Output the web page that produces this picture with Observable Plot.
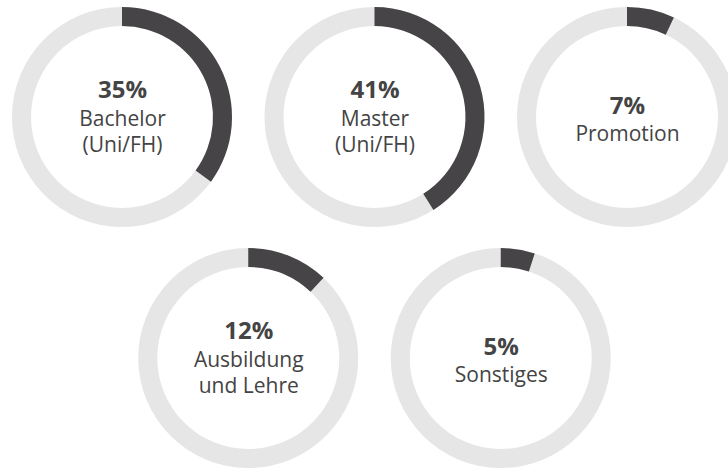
<!DOCTYPE html>
<html><head><meta charset="utf-8">
<script src="https://cdn.jsdelivr.net/npm/d3@7"></script>
<script src="https://cdn.jsdelivr.net/npm/@observablehq/plot@0.6"></script>
<style>html,body{margin:0;padding:0;background:#fff;overflow:hidden;} #chart svg{display:block}</style>
</head><body><div id="chart"></div>
<script>
// Data
const categories = ["Bachelor\n(Uni/FH)", "Master\n(Uni/FH)", "Promotion", "Ausbildung\nund Lehre", "Sonstiges"];
const percentages = [35, 41, 7, 12, 5];

// Layout: three rings on the first row, two on the second (offset by half a slot)
const rows = categories.map((label, i) => ({
  label,
  value: percentages[i],
  pct: percentages[i] + "%",
  col: i < 3 ? i : i - 2.5,
  row: i < 3 ? 0 : 1,
  lines: label.split("\n").length
}));

const outerR = 110, innerR = 91;
const angle = d3.scaleLinear([0, 100], [0, 2 * Math.PI]);
const font = "'Open Sans', 'Noto Sans', sans-serif";
const textColor = "#444";

function ringMark(data, fill, endValue) {
  return Plot.dot(data, {
    x: "col", y: "row", r: 0,
    render(index, scales, values) {
      const g = d3.create("svg:g");
      for (const i of index) {
        g.append("path")
          .attr("transform", `translate(${values.x[i]},${values.y[i]})`)
          .attr("fill", fill)
          .attr("d", d3.arc()({innerRadius: innerR, outerRadius: outerR, startAngle: 0, endAngle: angle(endValue(data[i]))}));
      }
      return g.node();
    }
  });
}

const pctSize = 24, labelSize = 21, lh = 1.27;

const chart = Plot.plot({
  width: 728,
  height: 468,
  margin: 0,
  style: {overflow: "hidden", background: "#fff"},
  x: {domain: [0, 2], range: [122, 627], axis: null},
  y: {domain: [0, 1], range: [117, 358], axis: null},
  marks: [
    ringMark(rows, "#e6e6e6", () => 100),
    ringMark(rows, "#464446", d => d.value),
    // percentages
    Plot.text(rows, {filter: d => d.lines === 2, x: "col", y: "row", text: "pct", lineAnchor: "bottom", dy: -20,
      fontSize: pctSize, fontWeight: "bold", fontFamily: font, fill: textColor}),
    Plot.text(rows, {filter: d => d.lines === 1, x: "col", y: "row", text: "pct", lineAnchor: "bottom", dy: -4,
      fontSize: pctSize, fontWeight: "bold", fontFamily: font, fill: textColor}),
    // labels
    Plot.text(rows, {filter: d => d.lines === 2, x: "col", y: "row", text: "label", lineAnchor: "top", lineHeight: lh,
      dy: 8 - 0.71 * lh * labelSize, fontSize: labelSize, fontFamily: font, fill: textColor}),
    Plot.text(rows, {filter: d => d.lines === 1, x: "col", y: "row", text: "label", lineAnchor: "top", lineHeight: lh,
      dy: 23 - 0.71 * lh * labelSize, fontSize: labelSize, fontFamily: font, fill: textColor})
  ]
});
document.getElementById("chart").appendChild(chart);
</script>
</body></html>
